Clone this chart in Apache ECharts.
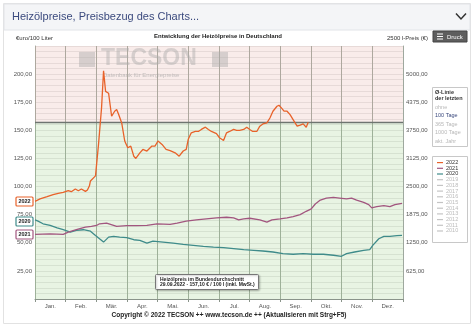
<!DOCTYPE html>
<html>
<head>
<meta charset="utf-8">
<script src="https://cdn.jsdelivr.net/npm/echarts@6/dist/echarts.min.js"></script>
<style>
  html, body { margin: 0; padding: 0; background: #ffffff; }
  #chart { width: 474px; height: 327px; }
</style>
</head>
<body>
<div id="chart"></div>
<script>
// Month labels along the bottom axis
const months = ['Jan.', 'Feb.', 'Mär.', 'Apr.', 'Mai.', 'Jun.', 'Jul.', 'Aug.', 'Sep.', 'Okt.', 'Nov.', 'Dez.'];

// Heating oil prices, EUR per 100 l, by day of year
const days2022 = [0,5,12,18,23,28,33,36,40,43,46,50,52,54,55,56,60,63,66,68,70,73,76,79,81,83,86,89,92,95,98,100,104,107,111,116,119,122,126,130,134,139,143,147,150,152,155,159,162,165,169,172,175,180,183,187,190,193,197,200,203,207,210,213,216,220,223,226,230,233,236,240,242,245,247,250,253,256,260,263,266,269,271];
const values2022 = [86.8,89,91,92.8,94,94.8,96.3,95.4,97.8,96.3,97.8,95.7,97,100.7,105,106,109.5,137.5,170,203,184.6,183,162.5,167,168.5,164,156.6,140.5,134.5,136,127,125,130,133,131.6,136,136,140.5,137.5,133,132,130,127,131.6,133,142,147.8,149,149,150.8,152.8,150.8,149,147,143.4,141,147.8,149,150.8,150,150,150.8,152.8,150.8,149,149,153.7,155.7,156.6,161,167,171.4,172.3,169.3,167,167,164,159.6,153.7,154.6,155.7,152.8,157.1];

const days2021 = [0,15,28,33,41,50,56,61,64,71,81,91,101,111,121,134,141,150,160,170,180,190,197,202,207,213,223,230,235,243,250,256,263,269,274,278,283,289,296,302,309,314,319,326,331,334,339,346,352,357,364];
const values2021 = [57.4,58,57.4,59.5,61.6,63.9,64.5,65.4,66.9,67.4,64.5,65.3,65.3,65.4,66.9,66.3,67.4,69.2,70.4,71.3,72.2,72.7,72.2,70.4,71.3,71.8,70.4,68.3,70.4,71.3,72.2,73.3,75.1,78,80.1,84.5,88,89.8,90.4,89.8,89,89.8,88,86,83.9,81,82.2,83,82.2,83.9,85.1];

const days2020 = [0,3,8,15,22,28,35,41,48,55,60,64,68,73,78,84,91,98,104,111,117,127,137,147,157,167,177,187,197,207,217,226,236,246,256,266,276,286,296,304,309,317,326,332,335,341,346,352,359,364];
const values2020 = [70.4,69.2,66.9,65.4,63.3,61.6,59.5,61,61.6,60.3,56.5,53.6,50.6,55,55.7,55,54.5,52.7,52.1,49.7,51.5,50.6,49.7,48.6,47.7,46.8,46.2,45.7,44.8,43.9,43.3,42.7,41.8,40.4,39.8,40.4,39.8,39.8,38.9,38,40.4,41.8,43.3,43.9,47.7,53.6,55.7,55.7,56.3,56.5];

// Current national average price (reference line)
const currentPrice = 157.10;
const currentDate = '29.09.2022';

// Legend entries
const legendYears = ['2022','2021','2020','2019','2018','2017','2016','2015','2014','2013','2012','2011','2010'];
const avgOptions = ['ohne', '100 Tage', '365 Tage', '1000 Tage', 'akt. Jahr'];

const C2022 = '#e8622a', C2021 = '#a2567f', C2020 = '#3e8b8a';
const yearColors = { '2022': C2022, '2021': C2021, '2020': C2020 };

function pairs(d, v) { return d.map((x, i) => [x, v[i]]); }
function deNum(v) { return v.toFixed(2).replace('.', ','); }

const chart = echarts.init(document.getElementById('chart'), null, { renderer: 'canvas' });
const FONT = 'Liberation Sans, Arial, sans-serif';

const graphics = [];
// panel frame and header
graphics.push({ type: 'rect', shape: { x: 3.5, y: 3.5, width: 467, height: 320 }, style: { fill: '#ffffff', stroke: '#e2e2e2', lineWidth: 1 }, z: -10 });
graphics.push({ type: 'rect', shape: { x: 4, y: 4, width: 466, height: 26 }, style: { fill: '#f4f5f7', stroke: '#e2e4e8', lineWidth: 1 }, z: -9 });
graphics.push({ type: 'text', x: 12, y: 17, style: { text: 'Heizölpreise, Preisbezug des Charts...', font: '11px ' + FONT, fill: '#3b4a7e', textVerticalAlign: 'middle' } });
graphics.push({ type: 'polyline', shape: { points: [[456, 13.5], [461, 19], [466, 13.5]] }, style: { stroke: '#333', lineWidth: 1.5, fill: null } });
// sub-header
graphics.push({ type: 'text', x: 16, y: 38, style: { text: '€uro/100 Liter', font: '6px ' + FONT, fill: '#333', textVerticalAlign: 'middle' } });
graphics.push({ type: 'text', x: 218, y: 36, style: { text: 'Entwicklung der Heizölpreise in Deutschland', font: 'bold 6px ' + FONT, fill: '#222', textAlign: 'center', textVerticalAlign: 'middle' } });
graphics.push({ type: 'text', x: 387, y: 38, style: { text: '2500 l-Preis (€)', font: '6px ' + FONT, fill: '#333', textVerticalAlign: 'middle' } });
graphics.push({ type: 'rect', shape: { x: 433, y: 31, width: 34, height: 11 }, style: { fill: '#5e5e5e', stroke: '#444' } });
[0, 2.5, 5].forEach(o => graphics.push({ type: 'rect', shape: { x: 437, y: 33.5 + o, width: 6, height: 1 }, style: { fill: '#ffffff' } }));
graphics.push({ type: 'text', x: 447, y: 37, style: { text: 'Druck', font: '6px ' + FONT, fill: '#ffffff', textVerticalAlign: 'middle' } });
// watermark
graphics.push({ type: 'rect', shape: { x: 79, y: 52, width: 16, height: 15 }, style: { fill: 'rgba(170,170,170,0.45)' }, z: 3 });
graphics.push({ type: 'text', x: 101, y: 59, style: { text: 'TECSON', font: 'bold 23px ' + FONT, fill: 'rgba(170,170,170,0.45)', textVerticalAlign: 'middle' }, z: 3 });
graphics.push({ type: 'rect', shape: { x: 212, y: 52, width: 16, height: 15 }, style: { fill: 'rgba(170,170,170,0.45)' }, z: 3 });
graphics.push({ type: 'text', x: 103, y: 75, style: { text: 'Datenbank für Energiepreise', font: '6px ' + FONT, fill: 'rgba(160,160,160,0.6)', textVerticalAlign: 'middle' }, z: 3 });
// year tags on the left
[['2022', 197, C2022], ['2020', 217, C2020], ['2021', 230, C2021]].forEach(t => {
  graphics.push({ type: 'rect', shape: { x: 16, y: t[1], width: 17, height: 9, r: 1 }, style: { fill: '#ffffff', stroke: t[2], lineWidth: 1.2 }, z: 10 });
  graphics.push({ type: 'text', x: 24.5, y: t[1] + 4.7, style: { text: t[0], font: 'bold 5.5px ' + FONT, fill: '#222', textAlign: 'center', textVerticalAlign: 'middle' }, z: 11 });
});
// average line selector box
graphics.push({ type: 'rect', shape: { x: 432.5, y: 87.5, width: 35, height: 59 }, style: { fill: '#ffffff', stroke: '#c8c8c8', lineWidth: 1 } });
graphics.push({ type: 'text', x: 435, y: 92, style: { text: 'Ø-Linie', font: 'bold 5.5px ' + FONT, fill: '#333', textVerticalAlign: 'middle' } });
graphics.push({ type: 'text', x: 435, y: 98, style: { text: 'der letzten', font: 'bold 5.5px ' + FONT, fill: '#333', textVerticalAlign: 'middle' } });
avgOptions.forEach((t, i) => {
  const active = t === '100 Tage';
  graphics.push({ type: 'text', x: 435, y: 107 + i * 8.5, style: { text: t, font: (active ? '' : '') + '5.5px ' + FONT, fill: active ? '#3b4a7e' : '#b8b8b8', textVerticalAlign: 'middle' } });
});
// year legend box
graphics.push({ type: 'rect', shape: { x: 432.5, y: 156.5, width: 35, height: 86 }, style: { fill: '#ffffff', stroke: '#c8c8c8', lineWidth: 1 } });
legendYears.forEach((y, i) => {
  const col = yearColors[y] || '#c4c4c4';
  const yy = 162.5 + i * 5.7;
  graphics.push({ type: 'rect', shape: { x: 437, y: yy - 0.5, width: 6, height: 1.2 }, style: { fill: col } });
  graphics.push({ type: 'text', x: 446, y: yy, style: { text: y, font: '5.5px ' + FONT, fill: yearColors[y] ? '#333' : '#bbbbbb', textVerticalAlign: 'middle' } });
});
// price note box
graphics.push({ type: 'rect', shape: { x: 155.5, y: 274.5, width: 103, height: 15, r: 1 }, style: { fill: '#ffffff', stroke: '#777', lineWidth: 1, shadowBlur: 2, shadowColor: 'rgba(0,0,0,0.25)', shadowOffsetX: 1, shadowOffsetY: 1 }, z: 10 });
graphics.push({ type: 'text', x: 160, y: 279.5, style: { text: 'Heizölpreis im Bundesdurchschnitt', font: 'bold 5px ' + FONT, fill: '#222', textVerticalAlign: 'middle' }, z: 11 });
graphics.push({ type: 'text', x: 160, y: 285, style: { text: currentDate + ' - ' + deNum(currentPrice) + ' € / 100 l (inkl. MwSt.)', font: 'bold 5px ' + FONT, fill: '#222', textVerticalAlign: 'middle' }, z: 11 });
// footer
graphics.push({ type: 'text', x: 229, y: 315, style: { text: 'Copyright © 2022 TECSON ++ www.tecson.de ++ (Aktualisieren mit Strg+F5)', font: 'bold 6.5px ' + FONT, fill: '#222', textAlign: 'center', textVerticalAlign: 'middle' } });

const lineSeries = (name, d, v, color, extra) => Object.assign({
  name, type: 'line', xAxisIndex: 1, yAxisIndex: 0,
  data: pairs(d, v), showSymbol: false, symbol: 'none', z: 5,
  lineStyle: { color, width: 1.3 }, itemStyle: { color }, animation: false
}, extra || {});

chart.setOption({
  animation: false,
  textStyle: { fontFamily: FONT },
  grid: { left: 35, right: 71, top: 46, bottom: 28 },
  xAxis: [
    {
      type: 'category', data: months, boundaryGap: true,
      axisLine: { lineStyle: { color: '#8a948a', width: 1 } },
      axisTick: { show: true, length: 3, lineStyle: { color: '#8a948a' } },
      axisLabel: { fontSize: 6, color: '#555', margin: 4 },
      splitLine: { show: true, lineStyle: { color: '#9ea89e', width: 1 } }
    },
    { type: 'value', min: 0, max: 365, show: false }
  ],
  yAxis: [
    {
      type: 'value', min: 0, max: 225, interval: 25, position: 'left',
      axisLine: { show: true, lineStyle: { color: '#9ea89e' } },
      axisTick: { show: false },
      axisLabel: { fontSize: 6, color: '#555', margin: 3, formatter: v => (v === 0 || v >= 225) ? '' : deNum(v) },
      splitLine: { show: true, lineStyle: { color: 'rgba(110,110,110,0.16)', width: 1 } },
      minorTick: { show: false, splitNumber: 5 },
      minorSplitLine: { show: true, lineStyle: { color: 'rgba(110,110,110,0.16)', width: 1 } }
    },
    {
      type: 'value', min: 0, max: 5625, interval: 625, position: 'right',
      axisLine: { show: true, lineStyle: { color: '#9ea89e' } },
      axisTick: { show: false },
      axisLabel: { fontSize: 6, color: '#555', margin: 3, formatter: v => (v === 0 || v >= 5625) ? '' : deNum(v) },
      splitLine: { show: false }
    }
  ],
  series: [
    {
      name: 'Hintergrund', type: 'line', xAxisIndex: 1, yAxisIndex: 0, data: [], z: 1,
      markArea: {
        silent: true,
        data: [
          [{ yAxis: currentPrice, itemStyle: { color: 'rgba(226,170,160,0.22)' } }, { yAxis: 225 }],
          [{ yAxis: 0, itemStyle: { color: 'rgba(160,210,140,0.24)' } }, { yAxis: currentPrice }]
        ]
      },
      markLine: {
        silent: true, symbol: 'none', label: { show: false },
        lineStyle: { color: '#6e7470', width: 1.4, type: 'solid' },
        data: [{ yAxis: currentPrice }]
      }
    },
    lineSeries('2020', days2020, values2020, C2020),
    lineSeries('2021', days2021, values2021, C2021),
    lineSeries('2022', days2022, values2022, C2022, { z: 6 })
  ],
  graphic: graphics
});
</script>
</body>
</html>
